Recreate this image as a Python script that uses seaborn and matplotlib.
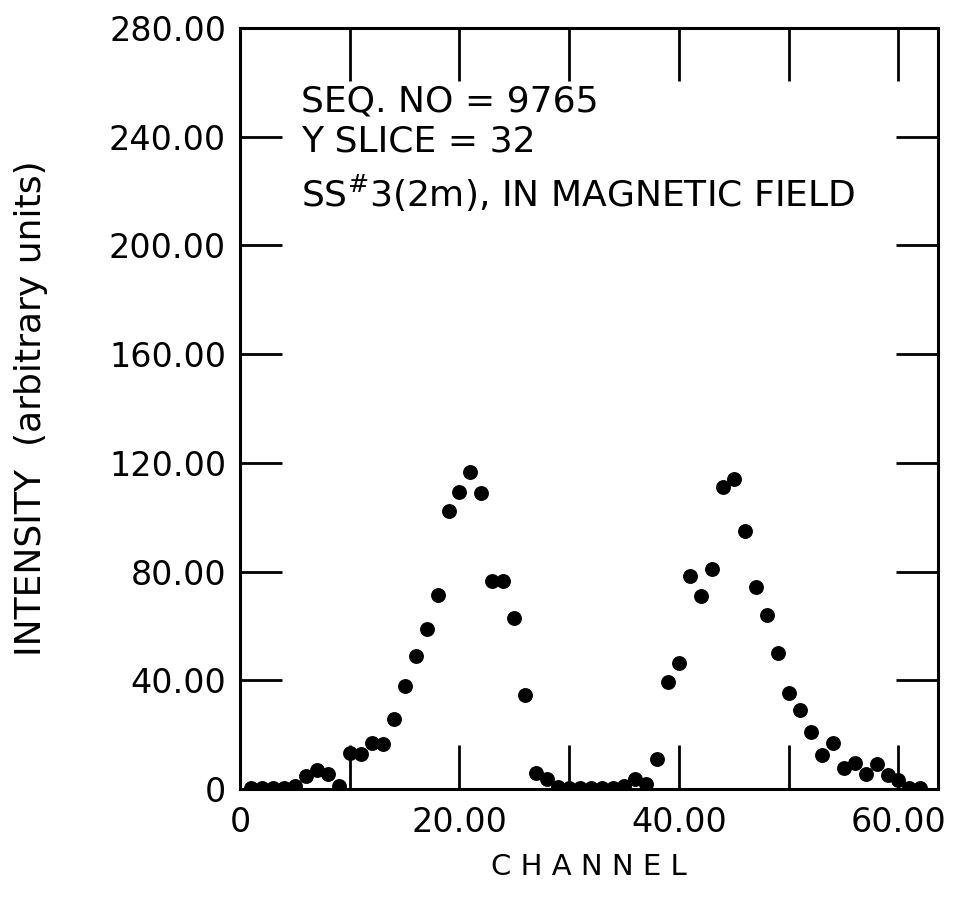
import matplotlib
matplotlib.use("Agg")
import matplotlib.pyplot as plt
import seaborn as sns
import pandas as pd

channels = list(range(1, 63))
intensity = [
    0.3, 0.3, 0.3, 0.3, 1.2,            # 1-5
    4.8, 7.0, 5.5, 1.0, 13.4,           # 6-10
    12.9, 17.0, 16.6, 25.9, 38.0,       # 11-15
    49.0, 58.8, 71.4, 102.3, 109.2,     # 16-20
    116.8, 109.0, 76.6, 76.6, 63.1,     # 21-25
    34.5, 6.0, 3.6, 0.7, 0.3,           # 26-30
    0.2, 0.2, 0.3, 0.5, 1.0,            # 31-35
    3.6, 1.7, 11.2, 39.5, 46.2,         # 36-40
    78.4, 71.1, 80.8, 111.3, 113.9,     # 41-45
    94.8, 74.2, 64.2, 50.2, 35.5,       # 46-50
    29.0, 21.1, 12.5, 17.1, 7.9,        # 51-55
    9.7, 5.4, 9.1, 5.0, 3.3,            # 56-60
    0.4, 0.4,                           # 61-62
]

x_major = [0, 20, 40, 60]
x_major_labels = ["0", "20.00", "40.00", "60.00"]
x_all_ticks = [10, 20, 30, 40, 50, 60]
y_ticks = [0, 40, 80, 120, 160, 200, 240, 280]
y_tick_labels = ["0", "40.00", "80.00", "120.00", "160.00", "200.00", "240.00", "280.00"]

annotation_lines = ["SEQ. NO = 9765", "Y SLICE = 32", r"SS$^{\#}$3(2m), IN MAGNETIC FIELD"]

sns.set_theme(style="white")
plt.rcParams["font.family"] = ["DejaVu Sans"]
plt.rcParams["text.color"] = "black"
plt.rcParams["axes.labelcolor"] = "black"
plt.rcParams["xtick.color"] = "black"
plt.rcParams["ytick.color"] = "black"

fig = plt.figure(figsize=(9.54, 9.0), dpi=100)
ax = fig.add_axes([240 / 954, 1 - 789 / 900, (938 - 240) / 954, (789 - 28) / 900])

df = pd.DataFrame({"channel": channels, "intensity": intensity})
sns.scatterplot(data=df, x="channel", y="intensity", ax=ax, color="black",
                s=115, edgecolor="black", linewidth=0, legend=False)

ax.set_xlim(0, 63.6)
ax.set_ylim(0, 280)

for sp in ax.spines.values():
    sp.set_color("black")
    sp.set_linewidth(2.2)

ax.set_yticks(y_ticks)
ax.set_yticklabels(y_tick_labels, fontsize=24, color="black")
ax.set_xticks(x_major)
ax.set_xticklabels(x_major_labels, fontsize=24, color="black")
ax.tick_params(axis="y", which="major", direction="in", length=30, width=2,
               left=True, right=True, pad=10, color="black")
ax.tick_params(axis="x", which="major", direction="in", length=0, width=2,
               bottom=True, top=False, pad=12, color="black")

secx_b = ax.secondary_xaxis("bottom")
secx_b.set_xticks(x_all_ticks)
secx_b.set_xticklabels([])
secx_b.tick_params(direction="in", length=32, width=2, color="black")
secx_b.spines["bottom"].set_visible(False)
secx_t = ax.secondary_xaxis("top")
secx_t.set_xticks(x_all_ticks)
secx_t.set_xticklabels([])
secx_t.tick_params(direction="in", length=38, width=2, color="black")
secx_t.spines["top"].set_visible(False)

ax.set_xlabel("C H A N N E L", fontsize=21, labelpad=10, color="black")
ax.set_ylabel("INTENSITY  (arbitrary units)", fontsize=26, labelpad=44, color="black")

ys = [0.904, 0.851, 0.783]
for txt, yy in zip(annotation_lines, ys):
    ax.text(0.088, yy, txt, transform=ax.transAxes, fontsize=26,
            ha="left", va="center", color="black")

fig.savefig("out.png", dpi=100, facecolor="white")
